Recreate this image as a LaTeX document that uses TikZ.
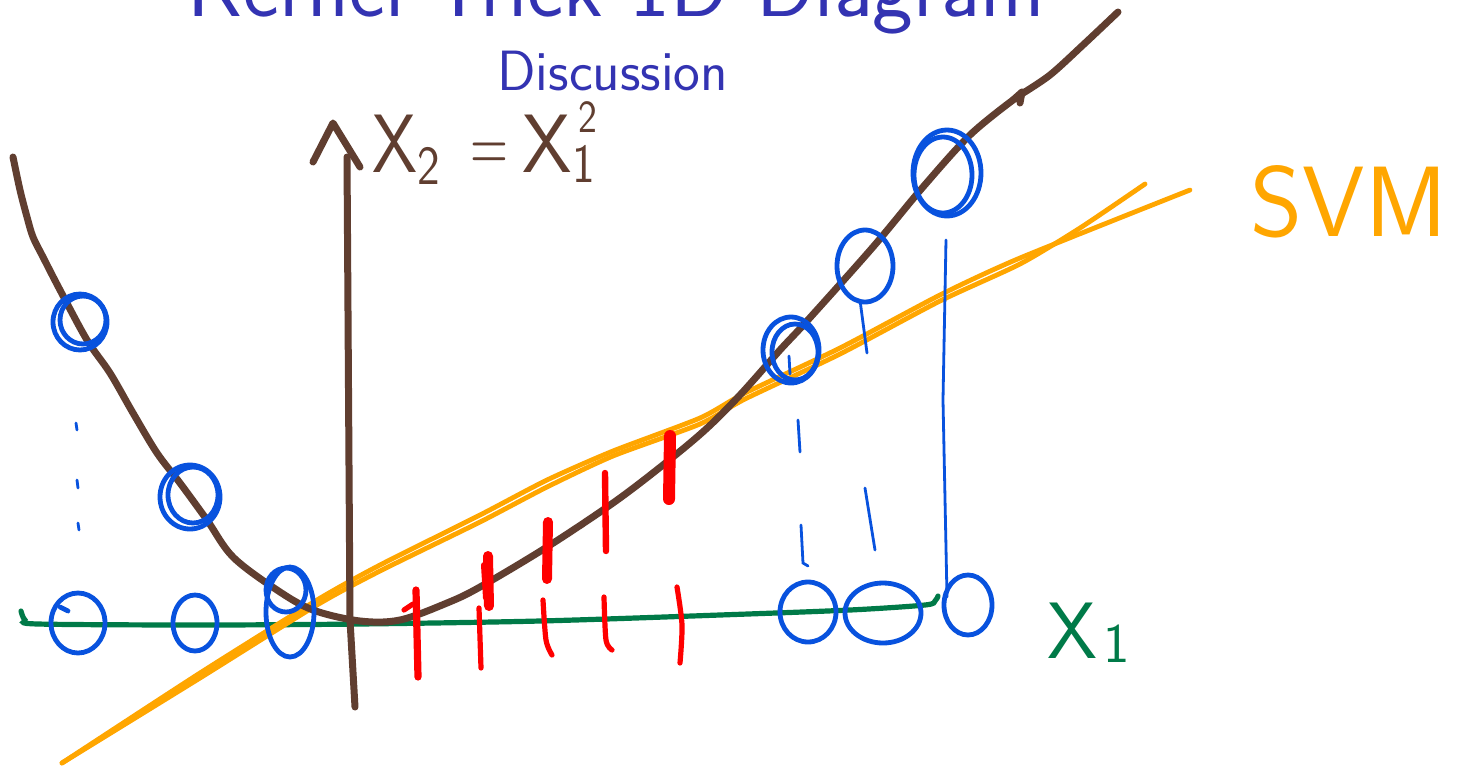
\documentclass[tikz,border=0pt]{standalone}
\usepackage{fontspec}
\definecolor{sbrown}{RGB}{96,62,48}
\definecolor{sblue}{RGB}{8,82,222}
\definecolor{sgreen}{RGB}{0,122,72}
\definecolor{sred}{RGB}{255,0,0}
\definecolor{sorange}{RGB}{255,166,0}
\definecolor{titleblue}{RGB}{51,51,178}
\tikzset{
  brownline/.style={sbrown, line width=3.5pt, line cap=round, line join=round},
  greenline/.style={sgreen, line width=2.6pt, line cap=round},
  orangeline/.style={sorange, line width=2.4pt, line cap=round, line join=round},
  bluecirc/.style={sblue, line width=2.4pt, line cap=round},
  bluethin/.style={sblue, line width=1.4pt, line cap=round},
  redtick/.style={sred, line width=2.6pt, line cap=round},
  redmark/.style={sred, line width=5pt, line cap=round},
  handlabel/.style={inner sep=0pt, anchor=base west}
}
\newcommand{\smallnum}[1]{{\fontsize{24}{24}\selectfont #1}}
\begin{document}
\begin{tikzpicture}[x=0.5pt,y=-0.5pt]
\clip (0,0) rectangle (1458,767);
\fill[white] (0,0) rectangle (1458,767);
% titles
\node[handlabel, text=titleblue, font=\sffamily\fontsize{43.2}{43}\selectfont] (title) at (187,16) {Kernel Trick 1D Diagram};
\node[handlabel, text=titleblue, font=\sffamily\fontsize{28.4}{28}\selectfont] (sub) at (497,90) {Discussion};
% green x1 axis
\draw[greenline] plot[smooth, tension=0.5] coordinates {(21,611) (25,620) (38,624) (200,625) (360,624) (540,621) (720,615) (850,610) (925,605) (935,601) (938,596)};
% orange SVM line (double stroke)
\draw[orangeline] plot[smooth, tension=0.4] coordinates {(62,763) (200,673) (317,600) (380,565) (480,515) (547,480) (613,451) (700,418) (745,393) (840,348) (940,295) (1020,258) (1190,190)};
\draw[orangeline] plot[smooth, tension=0.4] coordinates {(62,763) (200,678) (317,605) (380,571) (480,522) (547,487) (613,456) (700,424) (745,399) (840,354) (940,301) (1020,264) (1080,228) (1145,184)};
% brown parabola
\draw[brownline] plot[smooth, tension=0.55] coordinates {(13,157) (20,190) (27,217) (33,237) (43,257) (60,290) (87,340) (110,373) (133,413) (157,453) (180,483) (207,520) (233,557) (277,590) (313,610) (360,621) (400,620) (447,603) (480,587) (547,547) (613,503) (663,465) (705,430) (740,395) (780,350) (807,321) (873,247) (923,187) (970,135) (1013,100)};
\draw[brownline] (1013,100) -- (1022,92) -- (1020,103);
\draw[brownline] plot[smooth, tension=0.5] coordinates {(1020,95) (1050,75) (1083,45) (1118,12)};
% brown x2 axis with arrow
\draw[brownline] (355,707) -- (350,620) -- (347,157);
\draw[brownline] (313,162) -- (333,123) -- (360,167);
\node[handlabel, text=sbrown, font=\sffamily\fontsize{36}{36}\selectfont] (eq) at (372,172) {\scalebox{1}[1.15]{X\raisebox{-0.15em}{\smallnum{2}}\hspace{0.42em}\scalebox{0.72}[1]{=}\hspace{0.2em}\scalebox{1.1}[1]{X}}};
\node[handlabel, text=sbrown, font=\sffamily\fontsize{24}{24}\selectfont] (eqsub) at ([yshift=-5.4pt]eq.base east) {\scalebox{1}[1.15]{1}};
\node[handlabel, text=sbrown, font=\sffamily\fontsize{20}{20}\selectfont] (eqsup) at ([xshift=3pt,yshift=20pt]eq.base east) {\scalebox{1}[1.15]{2}};
% labels
\node[handlabel, text=sorange, font=\sffamily\fontsize{50}{50}\selectfont] (svm) at (1250,236) {SVM};
\node[handlabel, text=sgreen, font=\sffamily\fontsize{40}{40}\selectfont] (xone) at (1047,658) {X\hspace{0.08em}\raisebox{-0.05em}{{\fontsize{28}{28}\selectfont 1}}};
% red ticks on x1 axis
\draw[redtick, line width=3.6pt] (416,590) -- (418,677);
\draw[redtick] (404,610) -- (413,604);
\draw[redtick] (479,608) -- (481,668);
\draw[redtick] plot[smooth] coordinates {(543,600) (546,640) (552,655)};
\draw[redtick] plot[smooth] coordinates {(604,597) (606,640) (612,650)};
\draw[redtick] plot[smooth] coordinates {(677,587) (682,625) (680,663)};
% red marks on parabola
\draw[redmark] (488,556) -- (489,606);
\draw[redmark, line width=3pt] (484,565) -- (486,598);
\draw[redmark] (548,522) -- (547,579);
\draw[redtick, line width=3.2pt] (605,473) -- (606,551);
\draw[redmark, line width=6pt] (670,436) -- (669,499);
% blue circles on parabola
\draw[bluecirc] (80,322) ellipse [x radius=27, y radius=28];
\draw[bluecirc] (83,320) ellipse [x radius=23, y radius=24];
\draw[bluecirc] (190,497) ellipse [x radius=30, y radius=32];
\draw[bluecirc] (193,495) ellipse [x radius=25, y radius=28];
\draw[bluecirc] (791,350) ellipse [x radius=28, y radius=33];
\draw[bluecirc] (795,352) ellipse [x radius=23, y radius=28];
\draw[bluecirc] (865,266) ellipse [x radius=28, y radius=36];
\draw[bluecirc] (947,173) ellipse [x radius=34, y radius=43];
\draw[bluecirc] (943,175) ellipse [x radius=29, y radius=38];
% blue circles on x1 axis
\draw[bluecirc] (78,623) ellipse [x radius=27, y radius=30];
\draw[bluecirc] (60,607) -- (68,611);
\draw[bluecirc] (195,623) ellipse [x radius=22, y radius=28];
\draw[bluecirc] (290,612) ellipse [x radius=24, y radius=45];
\draw[bluecirc] (286,590) ellipse [x radius=20, y radius=22];
\draw[bluecirc] (808,612) ellipse [x radius=28, y radius=30];
\draw[bluecirc] (883,613) ellipse [x radius=38, y radius=30];
\draw[bluecirc] (968,605) ellipse [x radius=24, y radius=30];
% blue projections
\draw[bluethin] (76,423) -- (77,430);
\draw[bluethin] (77,480) -- (78,488);
\draw[bluethin] (78,523) -- (79,530);
\draw[bluethin] (789,356) -- (790,374);
\draw[bluethin] (798,420) -- (800,452);
\draw[bluethin] (801,525) -- (803,563) -- (808,566);
\draw[bluethin] (860,300) -- (867,353);
\draw[bluethin] (865,488) -- (875,550);
\draw[bluethin] (946,240) -- (943,400) -- (947,597);
\end{tikzpicture}
\end{document}
